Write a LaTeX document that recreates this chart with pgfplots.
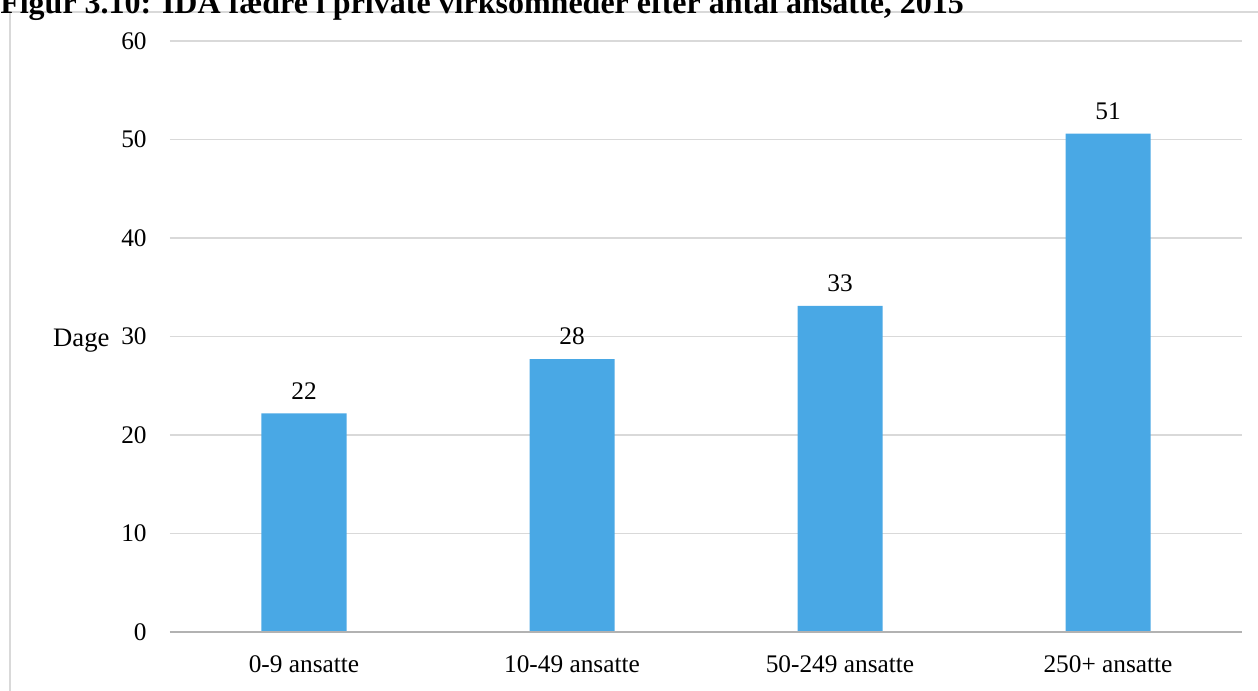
\documentclass[border=0pt]{standalone}
\usepackage{pgfplots}
\pgfplotsset{compat=1.18}
\usepackage{fontspec}
\setmainfont{Liberation Serif}
\definecolor{barblue}{RGB}{73,168,229}
\definecolor{gridgray}{RGB}{217,217,217}
\begin{document}
\begin{tikzpicture}
\useasboundingbox (0,0) rectangle (943.5pt,-518.25pt);
\draw[gridgray, line width=1.2pt] (7.5pt,-530pt) -- (7.5pt,-9pt) -- (960pt,-9pt);
\node[anchor=base west, inner sep=0pt, font=\fontsize{24}{28}\selectfont\bfseries] at (0pt,-10pt)
  {Figur 3.10: IDA fædre i private virksomheder efter antal ansatte, 2015};
\begin{axis}[
  at={(127.5pt,-474pt)}, anchor=south west,
  scale only axis, width=804pt, height=443.25pt,
  ymin=0, ymax=60, ytick={0,10,...,60},
  xmin=-0.5, xmax=3.5, xtick=data,
  xticklabels={0-9 ansatte,10-49 ansatte,50-249 ansatte,250+ ansatte},
  axis line style={draw=none},
  major tick length=0pt,
  ymajorgrids, grid style={gridgray, line width=1pt},
  font=\fontsize{19}{23}\selectfont,
  /pgf/number format/assume math mode=true,
  yticklabel style={xshift=-14pt},
  xticklabel style={yshift=-14pt},
  ylabel={\fontsize{20}{24}\selectfont Dage}, ylabel style={rotate=-90, xshift=-2pt, yshift=-3pt},
  ybar, bar width=63.75pt,
  nodes near coords={\pgfmathprintnumber[fixed,precision=0]{\pgfplotspointmeta}},
  every node near coord/.append style={font=\fontsize{19}{23}\selectfont, yshift=7pt},
  clip=false,
]
\addplot[fill=barblue, draw=none] coordinates {(0,22.2) (1,27.7) (2,33.1) (3,50.6)};
\draw[gray!60, line width=1.2pt] (axis cs:-0.5,0) -- (axis cs:3.5,0);
\end{axis}
\end{tikzpicture}
\end{document}
